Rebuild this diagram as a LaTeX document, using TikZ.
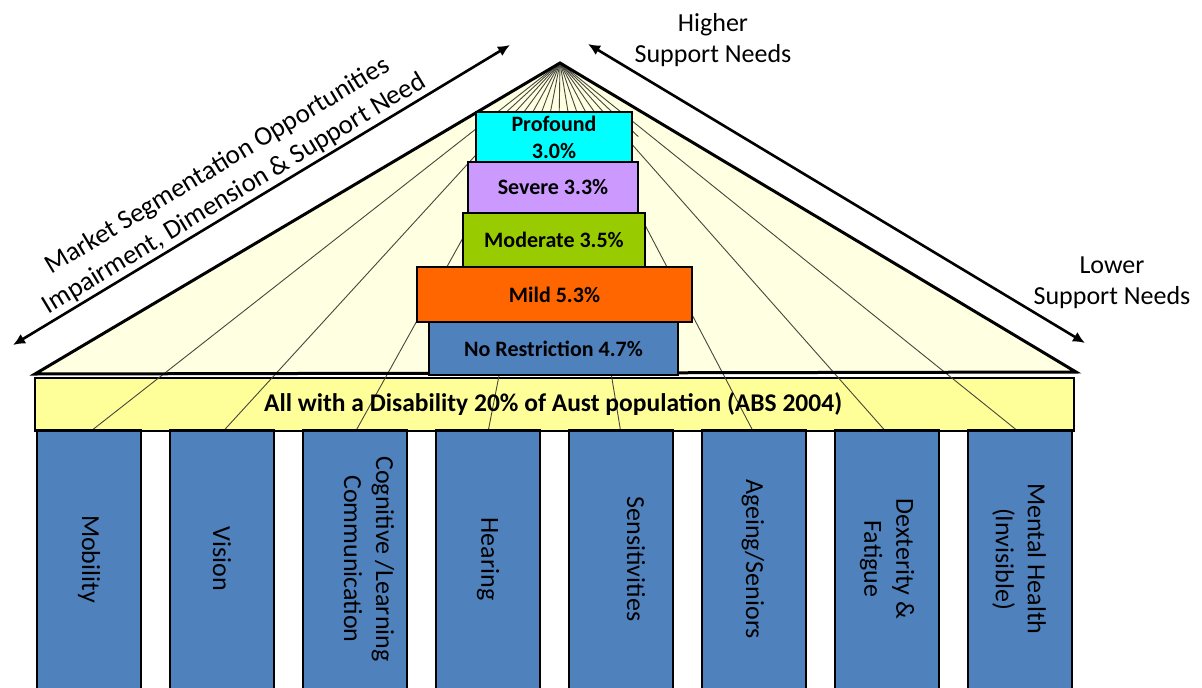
\documentclass[tikz,border=0pt]{standalone}
\usepackage{fontspec}
\setmainfont{Carlito}
\usetikzlibrary{arrows.meta,calc}
\definecolor{roofc}{RGB}{255,255,226}
\definecolor{beamc}{RGB}{255,255,153}
\definecolor{pillc}{RGB}{79,129,189}
\definecolor{profc}{RGB}{0,255,255}
\definecolor{sevc}{RGB}{204,153,255}
\definecolor{modc}{RGB}{153,204,0}
\definecolor{mildc}{RGB}{255,102,0}
\definecolor{fanc}{RGB}{70,70,60}
\begin{document}
\begin{tikzpicture}[x=1pt,y=-1pt,
  every node/.style={inner sep=0pt,outer sep=0pt},
  lvl/.style={draw=black,line width=2.5pt,font=\fontsize{22}{27}\selectfont\bfseries,align=center},
  pillar/.style={draw=black,line width=2.5pt,fill=pillc,minimum width=104pt,minimum height=262pt},
  ptext/.style={rotate=-90,font=\fontsize{26}{32}\selectfont,align=center},
  fan/.style={draw=fanc,line width=0.9pt},
  bigarrow/.style={line width=2.6pt,{Latex[length=12pt,width=11pt]}-{Latex[length=12pt,width=11pt]}},
  lbl/.style={font=\fontsize{26}{31}\selectfont,align=center}
]
\useasboundingbox (0,0) rectangle (1202,688);
% beam
\node[draw=black,line width=2.8pt,fill=beamc,minimum width=1039pt,minimum height=53pt] (beam) at (554.5,404.5) {};
% roof
\coordinate (apex) at (560,63);
\coordinate (rl) at (35,374);
\coordinate (rr) at (1076,372);
\fill[roofc] (apex) -- (rl) -- (rr) -- cycle;
\foreach \i in {0,...,7}{
  \coordinate (b\i) at ({91+132.4*\i},431);
  \draw[fan] (apex) -- (b\i);
}
\foreach \i in {0,...,6}{
  \coordinate (m\i) at ({157+132.4*\i},431);
  \draw[fan] (apex) -- ($(apex)!0.2!(m\i)$);
}
\draw[line width=3pt] (apex) -- (rl) -- (rr) -- cycle;
% levels
\node[lvl,fill=profc,minimum width=156pt,minimum height=50pt] (prof) at (554,137) {Profound\\3.0\%};
\node[lvl,fill=sevc,minimum width=170pt,minimum height=51pt] (sev) at (553,187.5) {Severe 3.3\%};
\node[lvl,fill=modc,minimum width=182pt,minimum height=54pt] (mod) at (554,240) {Moderate 3.5\%};
\node[lvl,fill=mildc,minimum width=275pt,minimum height=55pt] (mild) at (554.5,294.5) {Mild 5.3\%};
\node[lvl,fill=pillc,minimum width=249pt,minimum height=53pt] (nores) at (553.5,348.5) {No Restriction 4.7\%};
\node[font=\fontsize{25.5}{30}\selectfont\bfseries] (beamtxt) at (553,404.5) {All with a Disability 20\% of Aust population (ABS 2004)};
% pillars
\foreach \i in {1,...,8}{
  \node[pillar] (p\i) at ({89+133*(\i-1)},561.5) {};
}
\node[ptext] (t1) at (89,559) {Mobility};
\node[ptext] (t2) at (222,559) {Vision};
\node[ptext] (t3) at (369,559) {Cognitive /Learning\\Communication};
\node[ptext] (t4) at (488,559) {Hearing};
\node[ptext] (t5) at (636,559) {Sensitivities};
\node[ptext] (t6) at (753,559) {Ageing/Seniors};
\node[ptext] (t7) at (887,559) {Dexterity \&\\Fatigue};
\node[ptext] (t8) at (1019,559) {Mental Health\\(Invisible)};
% arrows
\coordinate (la1) at (13,345);
\coordinate (la2) at (510,45);
\coordinate (ra1) at (588,44);
\coordinate (ra2) at (1085,343);
\draw[bigarrow] (la1) -- (la2);
\draw[bigarrow] (ra1) -- (ra2);
% labels
\node[lbl] (higher) at (713,40) {Higher\\Support Needs};
\node[lbl] (lower) at (1112,283) {Lower\\Support Needs};
\node[lbl,font=\fontsize{27}{32}\selectfont,rotate=31.1] (mkt) at (226,180) {Market Segmentation Opportunities\\Impairment, Dimension \& Support Need};
\end{tikzpicture}
\end{document}
